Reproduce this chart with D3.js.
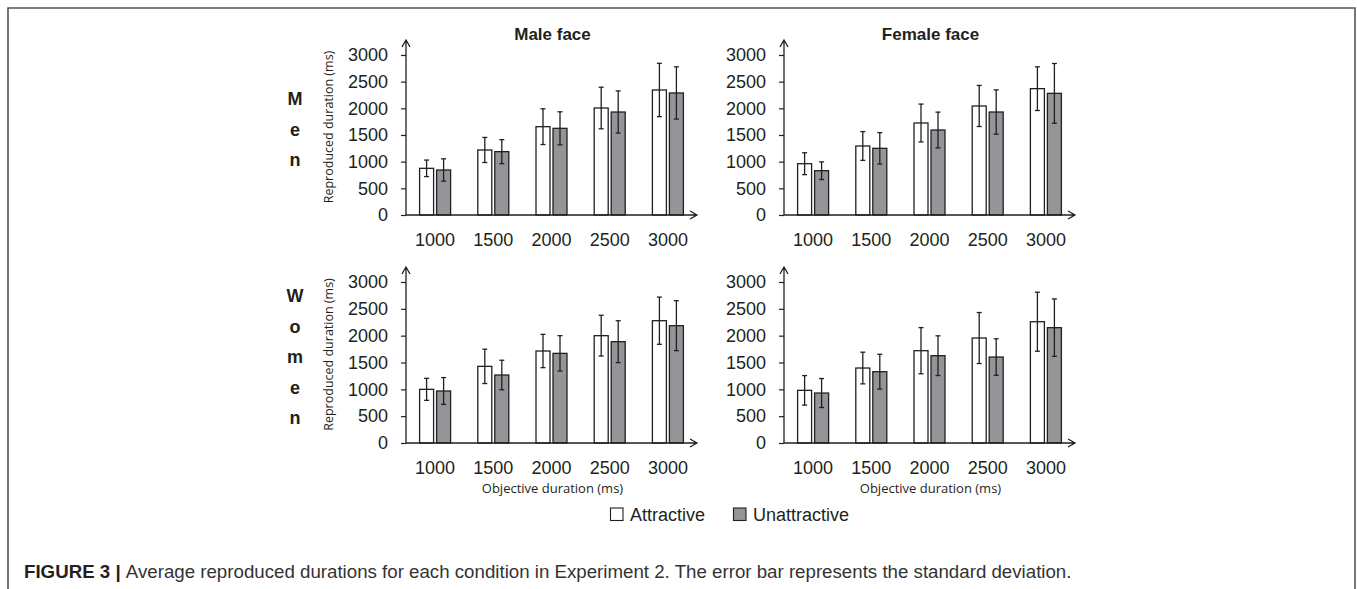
<!DOCTYPE html>
<html>
<head>
<meta charset="utf-8">
<script src="https://cdn.jsdelivr.net/npm/d3@7"></script>
<style>
  body { margin: 0; background: #fff; }
  text { fill: #231f20; }
</style>
</head>
<body>
<div id="chart"></div>
<script>
// Data (mean and SD, ms)
const durations = ["1000", "1500", "2000", "2500", "3000"];
const yTicks = [0, 500, 1000, 1500, 2000, 2500, 3000];
const seriesNames = ["Attractive", "Unattractive"];

const menMaleAttr = [875, 1219, 1656, 2006, 2344];
const menMaleAttrSD = [155, 235, 335, 390, 500];
const menMaleUnattr = [844, 1188, 1625, 1931, 2288];
const menMaleUnattrSD = [210, 225, 310, 395, 490];

const menFemaleAttr = [962, 1294, 1725, 2044, 2369];
const menFemaleAttrSD = [205, 270, 355, 385, 410];
const menFemaleUnattr = [831, 1250, 1594, 1931, 2281];
const menFemaleUnattrSD = [165, 295, 335, 415, 560];

const womenMaleAttr = [1000, 1428, 1714, 2000, 2279];
const womenMaleAttrSD = [205, 320, 310, 380, 440];
const womenMaleUnattr = [969, 1267, 1670, 1888, 2186];
const womenMaleUnattrSD = [250, 275, 330, 390, 465];

const womenFemaleAttr = [981, 1397, 1720, 1956, 2260];
const womenFemaleAttrSD = [275, 295, 430, 475, 550];
const womenFemaleUnattr = [931, 1329, 1627, 1602, 2149];
const womenFemaleUnattrSD = [270, 325, 370, 340, 535];

const colTitles = ["Male face", "Female face"];
const rowLabels = ["Men", "Women"];

const panels = [
  { row: 0, col: 0, means: [menMaleAttr, menMaleUnattr], sds: [menMaleAttrSD, menMaleUnattrSD] },
  { row: 0, col: 1, means: [menFemaleAttr, menFemaleUnattr], sds: [menFemaleAttrSD, menFemaleUnattrSD] },
  { row: 1, col: 0, means: [womenMaleAttr, womenMaleUnattr], sds: [womenMaleAttrSD, womenMaleUnattrSD] },
  { row: 1, col: 1, means: [womenFemaleAttr, womenFemaleUnattr], sds: [womenFemaleAttrSD, womenFemaleUnattrSD] }
];

// Layout
const W = 1357, H = 589;
const colX = [406, 784];       // y-axis position of each column
const plotW = 291;
const rowZero = [215, 443];    // pixel of value 0
const rowTop = [55, 282];      // pixel of value 3000
const fills = ["#ffffff", "#939598"];
const ink = "#231f20";
const barW = 14, barGap = 3;

const svg = d3.select("#chart").append("svg")
  .attr("width", W).attr("height", H);

// frame (top, left, right)
svg.append("path")
  .attr("d", `M8,${H} L8,8 L1355,8 L1355,${H}`)
  .attr("fill", "none").attr("stroke", "#555").attr("stroke-width", 1.6);

const x = d3.scaleBand().domain(durations).range([0, plotW]);

panels.forEach(p => {
  const g = svg.append("g").attr("transform", `translate(${colX[p.col]},0)`);
  const y = d3.scaleLinear().domain([0, 3000]).range([rowZero[p.row], rowTop[p.row]]);

  // y axis ticks + labels
  const yAxis = g.append("g").call(
    d3.axisLeft(y).tickValues(yTicks).tickSize(5).tickPadding(13).tickFormat(d3.format("d"))
  );
  yAxis.select(".domain").remove();
  yAxis.selectAll("line").attr("stroke", ink).attr("stroke-width", 1.2);
  yAxis.selectAll("text")
    .attr("font-family", "Liberation Sans, Arial, sans-serif")
    .attr("font-size", 18).attr("fill", ink);

  const yTopArrow = rowTop[p.row] - 15;
  const y0 = rowZero[p.row];

  // bars
  p.means.forEach((vals, s) => {
    const off = s === 0 ? -(barW + barGap / 2) : barGap / 2;
    g.selectAll(null).data(durations).enter().append("rect")
      .attr("x", d => x(d) + x.bandwidth() / 2 + off)
      .attr("y", (d, i) => y(vals[i]))
      .attr("width", barW)
      .attr("height", (d, i) => y0 - y(vals[i]))
      .attr("fill", fills[s])
      .attr("stroke", ink).attr("stroke-width", 1.3);

    // error bars
    const sd = p.sds[s];
    const cx = d => x(d) + x.bandwidth() / 2 + off + barW / 2;
    const eg = g.selectAll(null).data(durations).enter().append("g")
      .attr("stroke", ink).attr("stroke-width", 1.3);
    eg.append("line")
      .attr("x1", cx).attr("x2", cx)
      .attr("y1", (d, i) => y(vals[i] + sd[i]))
      .attr("y2", (d, i) => y(vals[i] - sd[i]));
    eg.append("line")
      .attr("x1", d => cx(d) - 2.5).attr("x2", d => cx(d) + 2.5)
      .attr("y1", (d, i) => y(vals[i] + sd[i])).attr("y2", (d, i) => y(vals[i] + sd[i]));
    eg.append("line")
      .attr("x1", d => cx(d) - 2.5).attr("x2", d => cx(d) + 2.5)
      .attr("y1", (d, i) => y(vals[i] - sd[i])).attr("y2", (d, i) => y(vals[i] - sd[i]));
  });

  // axes with arrow heads
  const axisPath = `M0,${y0} L0,${yTopArrow} M-4,${yTopArrow + 7} L0,${yTopArrow} L4,${yTopArrow + 7}` +
    ` M0,${y0} L${plotW},${y0} M${plotW - 7},${y0 - 4} L${plotW},${y0} L${plotW - 7},${y0 + 4}`;
  g.append("path").attr("d", axisPath)
    .attr("fill", "none").attr("stroke", ink).attr("stroke-width", 1.3);

  // x tick labels
  g.selectAll(null).data(durations).enter().append("text")
    .attr("x", d => x(d) + x.bandwidth() / 2)
    .attr("y", y0 + 31)
    .attr("text-anchor", "middle")
    .attr("font-family", "Liberation Sans, Arial, sans-serif")
    .attr("font-size", 18)
    .text(d => d);

  // column title
  if (p.row === 0) {
    g.append("text")
      .attr("x", plotW / 2 + 1).attr("y", 40)
      .attr("text-anchor", "middle")
      .attr("font-family", "Liberation Sans, Arial, sans-serif")
      .attr("font-weight", "bold").attr("font-size", 17)
      .text(colTitles[p.col]);
  }

  // y axis title, left column only
  if (p.col === 0) {
    const cy = (rowZero[p.row] + rowTop[p.row]) / 2 - 8;
    g.append("text")
      .attr("transform", `translate(-77,${cy}) rotate(-90)`)
      .attr("text-anchor", "middle")
      .attr("dy", "0.35em")
      .attr("font-family", "Open Sans, sans-serif")
      .attr("font-size", 12.5)
      .text("Reproduced duration (ms)");
  }

  // x axis title, bottom row only
  if (p.row === 1) {
    g.append("text")
      .attr("x", plotW / 2 + 1).attr("y", y0 + 50)
      .attr("text-anchor", "middle")
      .attr("font-family", "Open Sans, sans-serif")
      .attr("font-size", 13)
      .text("Objective duration (ms)");
  }
});

// row labels written vertically letter by letter
const rowStart = [105, 302];
rowLabels.forEach((lbl, r) => {
  svg.append("g").selectAll("text").data(lbl.split("")).enter().append("text")
    .attr("x", 295)
    .attr("y", (d, i) => rowStart[r] + i * 30.5)
    .attr("text-anchor", "middle")
    .attr("font-family", "Liberation Sans, Arial, sans-serif")
    .attr("font-weight", "bold").attr("font-size", 18)
    .text(d => d);
});

// legend
const legend = svg.append("g").attr("transform", "translate(610,508)");
const legendX = [0, 123];
seriesNames.forEach((name, i) => {
  const lg = legend.append("g").attr("transform", `translate(${legendX[i]},0)`);
  lg.append("rect").attr("x", 0.5).attr("y", 0).attr("width", 12.5).attr("height", 12.5)
    .attr("fill", fills[i]).attr("stroke", ink).attr("stroke-width", 1.1);
  lg.append("text").attr("x", 20).attr("y", 13)
    .attr("font-family", "Liberation Sans, Arial, sans-serif")
    .attr("font-size", 18)
    .text(name);
});

// caption
const cap = svg.append("text")
  .attr("x", 24).attr("y", 578)
  .attr("font-family", "Liberation Sans, Arial, sans-serif")
  .attr("font-size", 18.7);
cap.append("tspan").attr("font-weight", "bold").text("FIGURE 3 | ");
cap.append("tspan").attr("fill", "#333")
  .text("Average reproduced durations for each condition in Experiment 2. The error bar represents the standard deviation.");
</script>
</body>
</html>
